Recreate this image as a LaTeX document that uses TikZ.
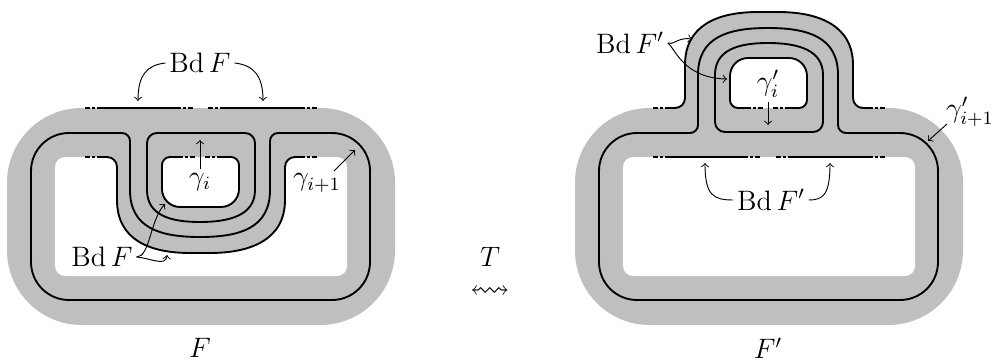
\documentclass[tikz,border=0pt]{standalone}
\usepackage{amssymb}

\tikzset{
  region/.style={fill=gray!50},
  curve/.style={line width=0.8pt},
  bdend/.style={curve, dash pattern=on 2.1pt off 0.9pt on 1.3pt off 0.9pt on 40pt off 1pt},
  lbl/.style={font=\large, inner sep=1.5pt},
}

% boundary piece on a straight edge: y, x from, x to (dashed ends)
\newcommand{\bdline}[3]{%
  \draw[bdend] (#2,#1) -- (#2+15,#1);
  \draw[curve] (#2+15,#1) -- (#3-15,#1);
  \draw[bdend] (#3,#1) -- (#3-15,#1);}

\begin{document}
\begin{tikzpicture}[x=0.015cm, y=-0.015cm, >=to]
  \useasboundingbox (0,0) rectangle (994,361);

  % --- Surface F (left) ---
  \fill[region, rounded corners=1.12cm] (7,108) rectangle (395,325);
  % hole with the finger hanging into it
  \fill[white, rounded corners=0.15cm] (80,157) -- (55,157) -- (55,276) -- (347,276) -- (347,157)
    -- (285,157) -- (285,190) .. controls (285,240) and (250,253) .. (200,253)
    .. controls (150,253) and (117,240) .. (117,190) -- (117,157) -- cycle;
  % small hole inside the finger
  \fill[white] (200,157) -- (170,157) arc[start angle=-90, end angle=-180, radius=8]
    -- (162,189) arc[start angle=180, end angle=90, radius=18]
    -- (221,207) arc[start angle=90, end angle=0, radius=18]
    -- (239,165) arc[start angle=0, end angle=-90, radius=8] -- cycle;

  % boundary of the finger
  \draw[bdend] (85,157) -- (100,157);
  \draw[bdend] (317,157) -- (302,157);
  \draw[curve, rounded corners=0.15cm] (100,157) -- (117,157) -- (117,190)
    .. controls (117,240) and (150,253) .. (200,253)
    .. controls (250,253) and (285,240) .. (285,190) -- (285,157) -- (302,157);
  % boundary of the small hole
  \draw[bdend] (195,157) -- (180,157);
  \draw[bdend] (205,157) -- (220,157);
  \draw[curve] (180,157) -- (170,157) arc[start angle=-90, end angle=-180, radius=8]
    -- (162,189) arc[start angle=180, end angle=90, radius=18]
    -- (221,207) arc[start angle=90, end angle=0, radius=18]
    -- (239,165) arc[start angle=0, end angle=-90, radius=8] -- (220,157);
  % outer boundary pieces
  \bdline{108}{85}{193}
  \bdline{108}{208}{317}

  % gamma_{i+1}
  \draw[curve] (130,190) -- (130,141) arc[start angle=0, end angle=-90, radius=8]
    -- (69,133) arc[start angle=-90, end angle=-180, radius=38]
    -- (31,262) arc[start angle=180, end angle=90, radius=38]
    -- (332,300) arc[start angle=90, end angle=0, radius=38]
    -- (370,171) arc[start angle=0, end angle=-90, radius=38]
    -- (278,133) arc[start angle=-90, end angle=-180, radius=8]
    -- (270,190) .. controls (270,228) and (240,237) .. (200,237)
    .. controls (160,237) and (130,228) .. (130,190) -- cycle;
  % gamma_i
  \draw[curve] (147,190) .. controls (147,215) and (170,222) .. (200,222)
    .. controls (230,222) and (255,215) .. (255,190)
    -- (255,143) arc[start angle=0, end angle=-90, radius=10]
    -- (157,133) arc[start angle=-90, end angle=-180, radius=10] -- cycle;

  % labels
  \coordinate (tgtL1) at (138,101);
  \coordinate (tgtL2) at (263,101);
  \coordinate (tgtD) at (165,204);
  \coordinate (tgtA) at (167,255);
  \coordinate (tgtC) at (200,140);
  \coordinate (tgtB) at (355,150);
  \coordinate (srcB) at (334,171);
  \node[lbl] (bdtop) at (200,63) {Bd\,$F$};
  \node[lbl] (bdlow) at (102,257) {Bd\,$F$};
  \node[lbl] (gi) at (200,182) {$\gamma_i$};
  \node[lbl] (gii) at (317,183) {$\gamma_{i+1}$};
  \node[lbl, inner sep=0.5pt] (nameF) at (200,348) {$F$};
  \draw[->] (bdtop.west) .. controls (147,65) and (138,75) .. (tgtL1);
  \draw[->] (bdtop.east) .. controls (253,65) and (263,75) .. (tgtL2);
  \draw[->] (bdlow.east) .. controls (150,257) and (150,220) .. (tgtD);
  \draw[->] (bdlow.east) .. controls (150,258) and (166,267) .. (tgtA);
  \draw[->] (gi.north) -- (tgtC);
  \draw[->] (srcB) -- (tgtB);

  % --- the move T ---
  \node[lbl, inner sep=0.5pt] (tmove) at (490,257) {$T$};
  \node[lbl, inner sep=0.5pt] (tsq) at (490,292) {$\leftrightsquigarrow$};

  % --- Surface F' (right) ---
  \begin{scope}[shift={(568,0)}]
    \fill[region, rounded corners=1.12cm] (7,108) rectangle (395,325);
    % handle on top
    \fill[region, rounded corners=0.15cm] (85,140) -- (85,108) -- (117,108) -- (117,75)
      .. controls (117,25) and (150,12) .. (200,12)
      .. controls (250,12) and (285,25) .. (285,75) -- (285,108) -- (317,108) -- (317,140) -- cycle;
    \fill[white, rounded corners=0.15cm] (55,157) rectangle (347,276);
    % small hole inside the handle
    \fill[white] (200,108) -- (170,108) arc[start angle=90, end angle=180, radius=8]
      -- (162,76) arc[start angle=180, end angle=270, radius=18]
      -- (221,58) arc[start angle=270, end angle=360, radius=18]
      -- (239,100) arc[start angle=0, end angle=90, radius=8] -- cycle;

    % boundary of the handle
    \draw[bdend] (85,108) -- (100,108);
    \draw[bdend] (317,108) -- (302,108);
    \draw[curve, rounded corners=0.15cm] (100,108) -- (117,108) -- (117,75)
      .. controls (117,25) and (150,12) .. (200,12)
      .. controls (250,12) and (285,25) .. (285,75) -- (285,108) -- (302,108);
    % boundary of the small hole
    \draw[bdend] (195,108) -- (180,108);
    \draw[bdend] (205,108) -- (220,108);
    \draw[curve] (180,108) -- (170,108) arc[start angle=90, end angle=180, radius=8]
      -- (162,76) arc[start angle=180, end angle=270, radius=18]
      -- (221,58) arc[start angle=270, end angle=360, radius=18]
      -- (239,100) arc[start angle=0, end angle=90, radius=8] -- (220,108);
    % inner boundary pieces
    \bdline{157}{85}{192}
    \bdline{157}{208}{317}

    % gamma'_{i+1}
    \draw[curve] (130,75) -- (130,125) arc[start angle=0, end angle=90, radius=8]
      -- (69,133) arc[start angle=-90, end angle=-180, radius=38]
      -- (31,262) arc[start angle=180, end angle=90, radius=38]
      -- (332,300) arc[start angle=90, end angle=0, radius=38]
      -- (370,171) arc[start angle=0, end angle=-90, radius=38]
      -- (278,133) arc[start angle=90, end angle=180, radius=8]
      -- (270,75) .. controls (270,37) and (240,28) .. (200,28)
      .. controls (160,28) and (130,37) .. (130,75) -- cycle;
    % gamma'_i
    \draw[curve] (147,75) .. controls (147,50) and (170,43) .. (200,43)
      .. controls (230,43) and (255,50) .. (255,75)
      -- (255,122) arc[start angle=0, end angle=90, radius=10]
      -- (157,132) arc[start angle=90, end angle=180, radius=10] -- cycle;

    % labels
    \coordinate (tgtR1) at (124,39);
    \coordinate (tgtRD) at (159,79);
    \coordinate (tgtRC) at (200,125);
    \coordinate (tgtRB) at (360,141);
    \coordinate (srcRB) at (379,124);
    \coordinate (tgtR3) at (137,163);
    \coordinate (tgtR4) at (262,163);
    \node[lbl] (bdtopR) at (62,43) {Bd\,$F'$};
    \node[lbl] (bdlowR) at (203,200) {Bd\,$F'$};
    \node[lbl] (giR) at (200,84) {$\gamma'_i$};
    \node[lbl] (giiR) at (402,112) {$\gamma'_{i+1}$};
    \node[lbl, inner sep=0.5pt] (nameFR) at (200,348) {$F'$};
    \draw[->] (bdtopR.east) .. controls (104,46) and (110,37) .. (tgtR1);
    \draw[->] (bdtopR.east) .. controls (107,48) and (115,78) .. (tgtRD);
    \draw[->] (giR.south) -- (tgtRC);
    \draw[->] (srcRB) -- (tgtRB);
    \draw[->] (bdlowR.west) .. controls (145,200) and (137,195) .. (tgtR3);
    \draw[->] (bdlowR.east) .. controls (255,200) and (262,195) .. (tgtR4);
  \end{scope}
\end{tikzpicture}
\end{document}
